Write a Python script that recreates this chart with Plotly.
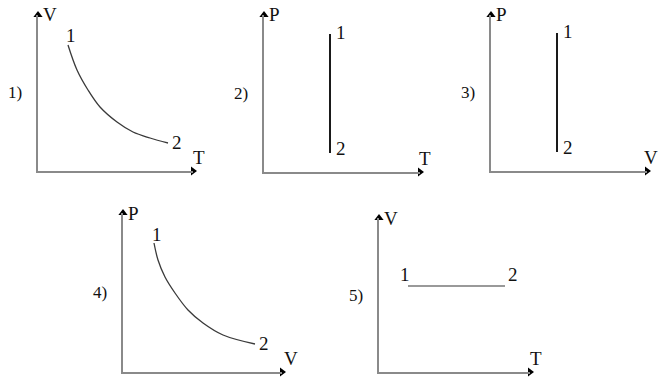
import plotly.graph_objects as go

# ---- data (arbitrary units) ----
# 1) V-T: falling curve
curve1_T = [30, 39, 50, 62, 79, 95, 112, 130]
curve1_V = [126, 101, 81, 64, 49, 39, 33, 28]
# 2) P-T: vertical segment
line2_T = [66, 66]
line2_P = [138, 19]
# 3) P-V: vertical segment
line3_V = [66, 66]
line3_P = [138, 19]
# 4) P-V: falling curve
curve4_V = [31, 35, 42, 52, 65, 80, 100, 132]
curve4_P = [129, 112, 95, 79, 62, 49, 37, 28]
# 5) V-T: horizontal segment
line5_T = [29, 126]
line5_V = [86, 86]

panel_names = ["1)", "2)", "3)", "4)", "5)"]
x_names = ["T", "T", "V", "V", "T"]
y_names = ["V", "P", "P", "P", "V"]
point_labels = ["1", "2"]

W, H = 658, 378
FONT = "Liberation Serif"
AXIS_COL = "#8a8a8a"

# panel boxes in pixels: left, top, width, height (origin is bottom-left)
boxes = [
    (38, 15, 155, 156),
    (264, 15, 156, 157),
    (491, 15, 156, 156),
    (123, 213, 159, 159),
    (379, 218, 151, 154),
]
# pixel nudges of the x axis names
x_name_shift = [-2, -3, -5, 0, -2]

series = [
    (curve1_T, curve1_V, "#3a3a3a", 1.3),
    (line2_T, line2_P, "#1a1a1a", 2),
    (line3_V, line3_P, "#1a1a1a", 2),
    (curve4_V, curve4_P, "#3a3a3a", 1.3),
    (line5_T, line5_V, "#777777", 1.3),
]

fig = go.Figure()
layout = {}
annotations = []


def label(text, x, y, xa, ya, size=19, xshift=0, yshift=0,
          xanchor="center", yanchor="middle"):
    # text placed at a data point, nudged in pixels
    return dict(x=x, y=y, xref=xa, yref=ya, text=text, showarrow=False,
                xshift=xshift, yshift=yshift, xanchor=xanchor,
                yanchor=yanchor, font=dict(family=FONT, size=size,
                                           color="#111"))


for i, (left, top, w, h) in enumerate(boxes):
    n = "" if i == 0 else str(i + 1)
    xa, ya = "x" + n, "y" + n
    layout["xaxis" + n] = dict(
        domain=[left / W, (left + w) / W], range=[0, w], anchor=ya,
        showline=True, linecolor=AXIS_COL, linewidth=1.5,
        showgrid=False, zeroline=False, showticklabels=False, ticks="",
        fixedrange=True)
    layout["yaxis" + n] = dict(
        domain=[(H - top - h) / H, (H - top) / H], range=[0, h], anchor=xa,
        showline=True, linecolor=AXIS_COL, linewidth=1.5,
        showgrid=False, zeroline=False, showticklabels=False, ticks="",
        fixedrange=True)

    xs, ys, col, lw = series[i]
    fig.add_trace(go.Scatter(
        x=xs, y=ys, mode="lines", line=dict(color=col, width=lw, shape="spline"),
        xaxis=xa, yaxis=ya, hoverinfo="skip", cliponaxis=False))

    # arrow heads at the axis ends
    fig.add_trace(go.Scatter(
        x=[0, w], y=[h, 0], mode="markers",
        marker=dict(symbol=["triangle-up", "triangle-right"], size=8,
                    color="black"),
        xaxis=xa, yaxis=ya, hoverinfo="skip", cliponaxis=False))

    # axis names (anchored inside the range, shifted out in pixels)
    annotations.append(label(y_names[i], 0, h, xa, ya, xshift=3,
                             xanchor="left"))
    annotations.append(label(x_names[i], w, 0, xa, ya,
                             xshift=x_name_shift[i], yshift=1,
                             xanchor="left", yanchor="bottom"))
    # panel number
    annotations.append(label(panel_names[i], 0, h * 0.5, xa, ya, size=17,
                             xshift=-23))

    # labels of states 1 and 2
    if i in (0, 3):
        annotations.append(label(point_labels[0], xs[0], ys[0], xa, ya,
                                 xshift=3, yshift=9))
        annotations.append(label(point_labels[1], xs[-1], ys[-1], xa, ya,
                                 xshift=2, yshift=1, xanchor="left"))
    elif i in (1, 2):
        annotations.append(label(point_labels[0], xs[0], ys[0], xa, ya,
                                 xshift=4, yshift=1, xanchor="left"))
        annotations.append(label(point_labels[1], xs[-1], ys[-1], xa, ya,
                                 xshift=4, yshift=5, xanchor="left"))
    else:
        annotations.append(label(point_labels[0], xs[0], ys[0], xa, ya,
                                 xshift=-3, yshift=12))
        annotations.append(label(point_labels[1], xs[-1], ys[-1], xa, ya,
                                 xshift=8, yshift=12))

fig.update_layout(
    width=W, height=H, margin=dict(l=0, r=0, t=0, b=0),
    paper_bgcolor="white", plot_bgcolor="white", showlegend=False,
    annotations=annotations, **layout)

fig.write_html("out.html", config={"displayModeBar": False},
               post_script="document.body.style.margin='0';"
                           "document.body.style.overflow='hidden';")
